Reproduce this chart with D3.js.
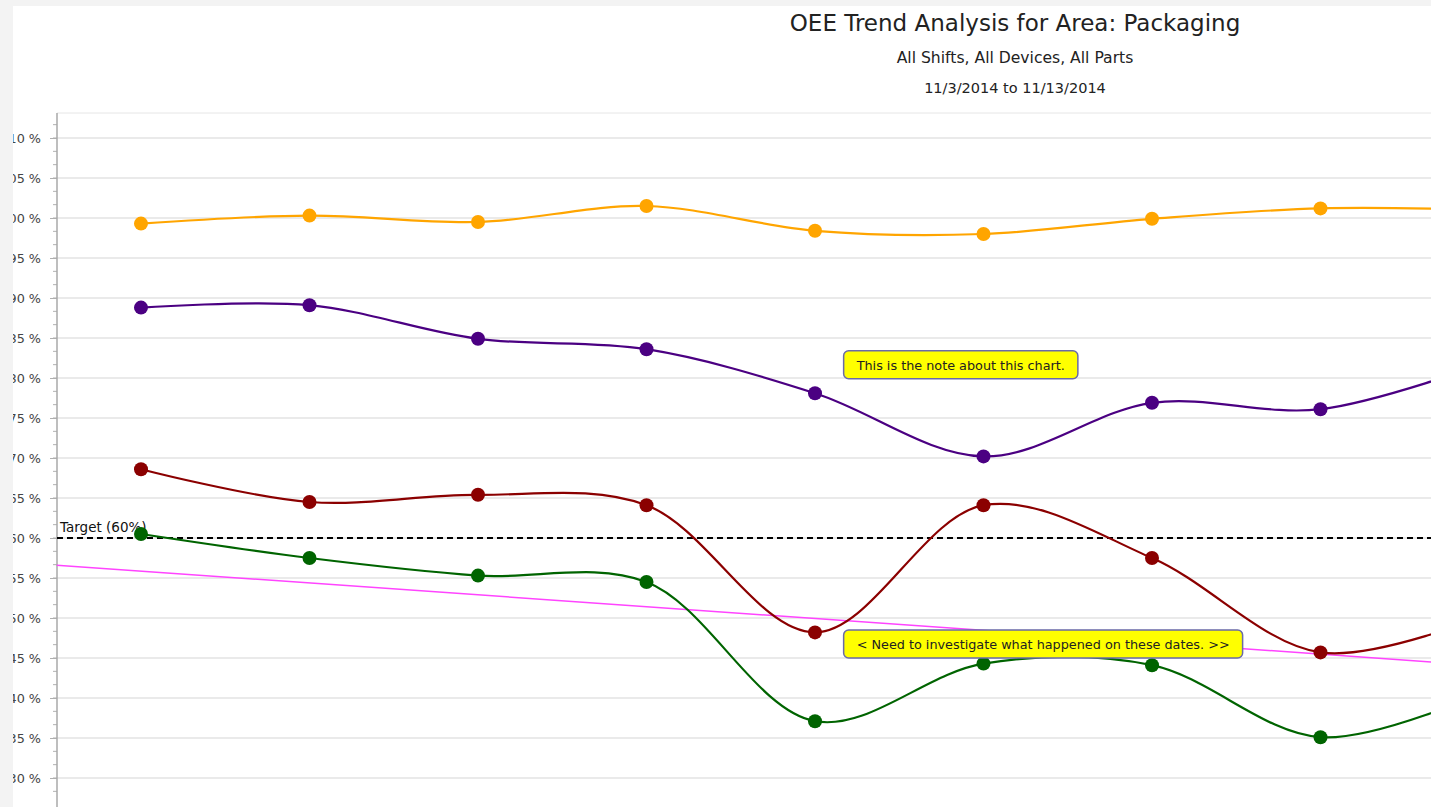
<!DOCTYPE html>
<html>
<head>
<meta charset="utf-8">
<script src="https://cdn.jsdelivr.net/npm/d3@7"></script>
<style>
  body { margin: 0; background: #fff; overflow: hidden; }
  text { font-family: Tahoma, "DejaVu Sans", sans-serif; }
</style>
</head>
<body>
<div id="chart"></div>
<script>
// dates shown on the chart (only the first ones fit in the view)
const days = ["11/3", "11/4", "11/5", "11/6", "11/7", "11/8", "11/9", "11/10", "11/11"];

// series values in percent
const quality      = [99.3, 100.3, 99.5, 101.5, 98.4, 98.0, 99.9, 101.2, 101.0];
const performance  = [88.8, 89.1, 84.9, 83.6, 78.1, 70.2, 76.9, 76.1, 82.0];
const availability = [68.6, 64.5, 65.4, 64.1, 48.2, 64.1, 57.5, 45.7, 50.5];
const oee          = [60.5, 57.5, 55.3, 54.5, 37.1, 44.3, 44.1, 35.1, 41.0];

// linear trend of OEE, value at first and last day
const trendIdx = [-0.5, 8.0];
const trendVal = [56.6, 44.0];

const target = 60;
const yTicks = [30, 35, 40, 45, 50, 55, 60, 65, 70, 75, 80, 85, 90, 95, 100, 105, 110];

const notes = [
  {text: "This is the note about this chart.", i: 4.17, v: 83.4},
  {text: "< Need to investigate what happened on these dates. >>", i: 4.17, v: 48.5}
];

const W = 1431, H = 807;
const svg = d3.select("#chart").append("svg")
  .attr("width", W)
  .attr("height", H);

svg.append("rect").attr("width", W).attr("height", H).attr("fill", "#f3f3f3");
svg.append("rect").attr("x", 12).attr("y", 6).attr("width", W - 12).attr("height", H - 6).attr("fill", "#fff");

const x = d3.scaleLinear().domain([0, 1]).range([141, 309.5]);
const y = d3.scaleLinear().domain([30, 110]).range([778, 138]);
const axisX = 57, plotTop = 113;

// titles
svg.append("text").attr("x", 1015).attr("y", 31).attr("text-anchor", "middle")
  .attr("font-size", 23).attr("fill", "#222").text("OEE Trend Analysis for Area: Packaging");
svg.append("text").attr("x", 1015).attr("y", 63).attr("text-anchor", "middle")
  .attr("font-size", 15.6).attr("fill", "#222").text("All Shifts, All Devices, All Parts");
svg.append("text").attr("x", 1015).attr("y", 93).attr("text-anchor", "middle")
  .attr("font-size", 14.5).attr("fill", "#222").text("11/3/2014 to 11/13/2014");

// grid
svg.append("g").selectAll("line").data(yTicks).enter().append("line")
  .attr("x1", axisX).attr("x2", W)
  .attr("y1", d => y(d)).attr("y2", d => y(d))
  .attr("stroke", "#e3e3e3").attr("stroke-width", 1.5);
svg.append("line").attr("x1", axisX).attr("x2", W).attr("y1", plotTop).attr("y2", plotTop)
  .attr("stroke", "#e6e6e6");

// y axis
const minor = d3.range(30 - 5 / 3, 112, 5 / 3);
svg.append("g").selectAll("line").data(minor).enter().append("line")
  .attr("x1", axisX - 4).attr("x2", axisX)
  .attr("y1", d => y(d)).attr("y2", d => y(d))
  .attr("stroke", "#b0b0b0");
const axis = d3.axisLeft(y).tickValues(yTicks).tickSize(7).tickPadding(9)
  .tickFormat(d => d + " %");
const ag = svg.append("g").attr("transform", "translate(" + axisX + ",0)").call(axis);
ag.select(".domain").remove();
ag.selectAll(".tick line").attr("stroke", "#b0b0b0");
ag.selectAll(".tick text").attr("font-size", 12.8).attr("fill", "#444")
  .style("font-family", "Tahoma, 'DejaVu Sans', sans-serif");
svg.append("line").attr("x1", axisX).attr("x2", axisX).attr("y1", plotTop).attr("y2", H)
  .attr("stroke", "#a8a8a8").attr("stroke-width", 1.5);

// left edge strip covers label overflow
svg.append("rect").attr("width", 13).attr("height", H).attr("fill", "#f3f3f3");

// trend line
svg.append("line")
  .attr("x1", x(trendIdx[0])).attr("y1", y(trendVal[0]))
  .attr("x2", x(trendIdx[1])).attr("y2", y(trendVal[1]))
  .attr("stroke", "#ff44ff").attr("stroke-width", 1.5);

// target line
svg.append("line").attr("x1", axisX).attr("x2", W)
  .attr("y1", y(target)).attr("y2", y(target))
  .attr("stroke", "#000").attr("stroke-width", 2).attr("stroke-dasharray", "6,4");
svg.append("text").attr("x", axisX + 3).attr("y", y(target) - 6)
  .attr("font-size", 13.5).attr("fill", "#111").text("Target (60%)");

const series = [
  {vals: quality, color: "#ffa500"},
  {vals: performance, color: "#4b0082"},
  {vals: availability, color: "#8b0000"},
  {vals: oee, color: "#006400"}
];

const line = d3.line()
  .x((d, i) => x(i))
  .y(d => y(d))
  .curve(d3.curveCatmullRom.alpha(0.5));

series.forEach(s => {
  svg.append("path").datum(s.vals)
    .attr("d", line)
    .attr("fill", "none")
    .attr("stroke", s.color)
    .attr("stroke-width", 2.2);
  svg.append("g").selectAll("circle").data(s.vals).enter().append("circle")
    .attr("cx", (d, i) => x(i))
    .attr("cy", d => y(d))
    .attr("r", 7)
    .attr("fill", s.color);
});

// notes
notes.forEach(n => {
  const g = svg.append("g").attr("transform", "translate(" + x(n.i) + "," + y(n.v) + ")");
  const t = g.append("text").attr("x", 13).attr("y", 19)
    .attr("font-size", 12.8).attr("fill", "#222").text(n.text);
  const w = t.node().getComputedTextLength();
  g.insert("rect", "text")
    .attr("width", w + 26).attr("height", 28)
    .attr("rx", 5).attr("ry", 5)
    .attr("fill", "#ffff00").attr("stroke", "#6a6aa8").attr("stroke-width", 1.5);
});
</script>
</body>
</html>
